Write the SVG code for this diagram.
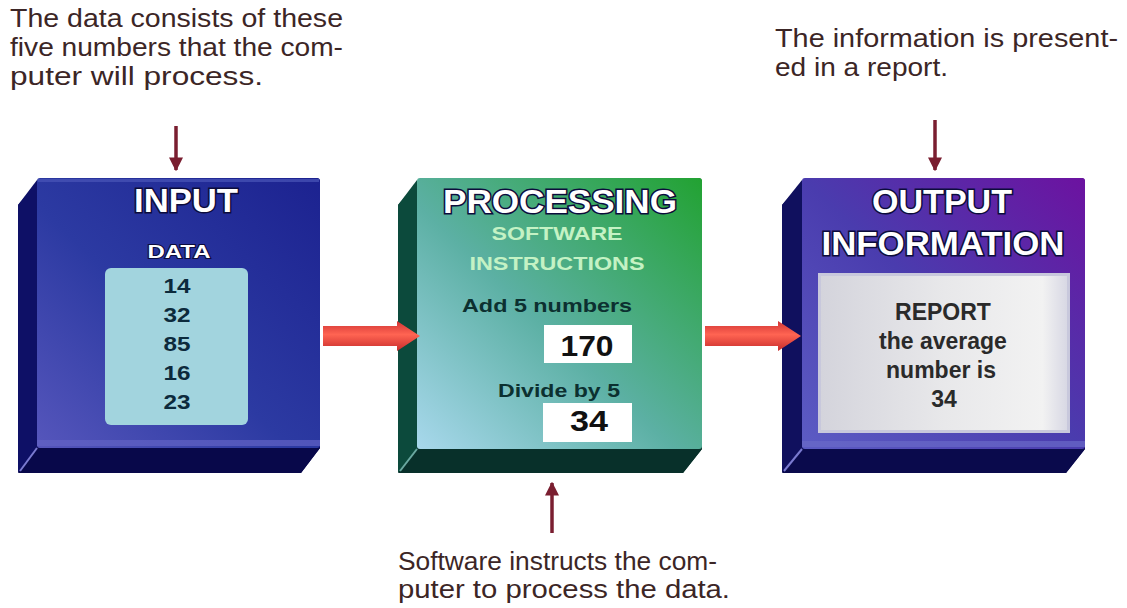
<svg xmlns="http://www.w3.org/2000/svg" width="1127" height="608" viewBox="0 0 1127 608">
<defs>
<linearGradient id="gIn" x1="0" y1="1" x2="1" y2="0">
<stop offset="0" stop-color="#5656bc"/><stop offset="0.45" stop-color="#2c3aa2"/><stop offset="1" stop-color="#1c2290"/>
</linearGradient>
<linearGradient id="gProc" x1="0" y1="1" x2="1" y2="0">
<stop offset="0" stop-color="#a8d8ec"/><stop offset="0.45" stop-color="#5cb0a4"/><stop offset="1" stop-color="#22a232"/>
</linearGradient>
<linearGradient id="gOut" x1="0" y1="1" x2="1" y2="0">
<stop offset="0" stop-color="#5c5cc4"/><stop offset="0.5" stop-color="#4a3cae"/><stop offset="1" stop-color="#6c12a0"/>
</linearGradient>
<linearGradient id="gRed" x1="0" y1="0" x2="0" y2="1">
<stop offset="0" stop-color="#d03434"/><stop offset="0.45" stop-color="#ff6452"/><stop offset="1" stop-color="#c82c2c"/>
</linearGradient>
<linearGradient id="gRep" x1="0" y1="0" x2="1" y2="0">
<stop offset="0" stop-color="#d4d4dc"/><stop offset="0.5" stop-color="#e8e8ea"/><stop offset="0.9" stop-color="#f2f2f2"/><stop offset="1" stop-color="#d8d8e4"/>
</linearGradient>
<marker id="ah" viewBox="0 0 10 10" refX="9" refY="5" markerWidth="4" markerHeight="4" orient="auto">
<path d="M0,0 L10,5 L0,10 Z" fill="#7a1e30"/>
</marker>
</defs>
<style>
.note{font-family:"Liberation Sans",Arial,sans-serif;font-size:26px;fill:#3c2626}
.title{font-family:"Liberation Sans",Arial,sans-serif;font-weight:bold;font-size:33px;fill:#ffffff;stroke:#0c0c3c;stroke-width:3;paint-order:stroke;text-anchor:middle}
.sub{font-family:"Liberation Sans",Arial,sans-serif;font-weight:bold;font-size:19px;text-anchor:middle}
.num{font-family:"Liberation Sans",Arial,sans-serif;font-weight:bold;font-size:21px;fill:#0c2a3c;text-anchor:middle}
.big{font-family:"Liberation Sans",Arial,sans-serif;font-weight:bold;font-size:29px;fill:#111111;text-anchor:middle}
.rep{font-family:"Liberation Sans",Arial,sans-serif;font-weight:bold;font-size:23px;fill:#2a2a2a;text-anchor:middle}
.ann{stroke:#7a1e30;stroke-width:3.5;fill:none}
</style>
<rect width="1127" height="608" fill="#ffffff"/>

<g id="note-input">
<text class="note" x="10" y="27" textLength="333" lengthAdjust="spacingAndGlyphs">The data consists of these</text>
<text class="note" x="10" y="56" textLength="333" lengthAdjust="spacingAndGlyphs">five numbers that the com-</text>
<text class="note" x="10" y="85" textLength="253" lengthAdjust="spacingAndGlyphs">puter will process.</text>
</g>
<g id="note-output">
<text class="note" x="775" y="47" textLength="343" lengthAdjust="spacingAndGlyphs">The information is present-</text>
<text class="note" x="775" y="76" textLength="173" lengthAdjust="spacingAndGlyphs">ed in a report.</text>
</g>
<g id="note-processing">
<text class="note" x="398" y="570" textLength="319" lengthAdjust="spacingAndGlyphs">Software instructs the com-</text>
<text class="note" x="398" y="598" textLength="332" lengthAdjust="spacingAndGlyphs">puter to process the data.</text>
</g>

<g id="input">
<path d="M41,178 H316 Q320,178 320,182 V448 L301,473 H22 Q18,473 18,469 V205 Z" fill="#0c0c5a"/>
<path d="M37,180 V448 L18,473 V205 Z" fill="#0e1066"/>
<path d="M37,448 H320 L301,473 H18 Z" fill="#08084a"/>
<rect x="37" y="178" width="283" height="270" rx="3" fill="url(#gIn)"/>
<rect x="37" y="440" width="283" height="6" fill="#6262c4" opacity="0.7"/>
<line x1="37" y1="448" x2="20" y2="471" stroke="#7a7ad0" stroke-width="2"/>
<rect x="38" y="179" width="281" height="3" fill="#4a56b8" opacity="0.7"/>
<text class="title" x="186" y="212" textLength="104" lengthAdjust="spacingAndGlyphs">INPUT</text>
<text class="sub" x="179" y="258" fill="#ffffff" stroke="#0c0c3c" stroke-width="2" paint-order="stroke" textLength="63" lengthAdjust="spacingAndGlyphs">DATA</text>
<rect x="105" y="268" width="143" height="157" rx="6" fill="#a2d4de"/>
<text class="num" x="177" y="293" textLength="27" lengthAdjust="spacingAndGlyphs">14</text>
<text class="num" x="177" y="322" textLength="27" lengthAdjust="spacingAndGlyphs">32</text>
<text class="num" x="177" y="351" textLength="27" lengthAdjust="spacingAndGlyphs">85</text>
<text class="num" x="177" y="380" textLength="27" lengthAdjust="spacingAndGlyphs">16</text>
<text class="num" x="177" y="409" textLength="27" lengthAdjust="spacingAndGlyphs">23</text>
</g>

<g id="processing">
<path d="M421,178 H698 Q702,178 702,182 V449 L683,473 H402 Q398,473 398,469 V205 Z" fill="#0a3a30"/>
<path d="M417,180 V449 L398,473 V205 Z" fill="#0c4a3c"/>
<path d="M417,449 H702 L683,473 H398 Z" fill="#08302a"/>
<rect x="417" y="178" width="285" height="271" rx="3" fill="url(#gProc)"/>
<line x1="417" y1="449" x2="400" y2="471" stroke="#6aa8a0" stroke-width="2"/>
<text class="title" x="560" y="213" stroke="#0a3a22" textLength="234" lengthAdjust="spacingAndGlyphs">PROCESSING</text>
<text class="sub" x="557" y="240" fill="#c4f2c4" textLength="131" lengthAdjust="spacingAndGlyphs">SOFTWARE</text>
<text class="sub" x="557" y="270" fill="#c4f2c4" textLength="175" lengthAdjust="spacingAndGlyphs">INSTRUCTIONS</text>
<text class="sub" x="547" y="312" fill="#0c3030" textLength="170" lengthAdjust="spacingAndGlyphs">Add 5 numbers</text>
<rect x="544" y="325" width="88" height="38" fill="#ffffff"/>
<text class="big" x="587" y="356" textLength="53" lengthAdjust="spacingAndGlyphs">170</text>
<text class="sub" x="559" y="397" fill="#0c3030" textLength="122" lengthAdjust="spacingAndGlyphs">Divide by 5</text>
<rect x="543" y="403" width="89" height="39" fill="#ffffff"/>
<text class="big" x="589" y="431" textLength="38" lengthAdjust="spacingAndGlyphs">34</text>
</g>

<g id="output">
<path d="M806,178 H1081 Q1085,178 1085,182 V449 L1066,473 H786 Q782,473 782,469 V205 Z" fill="#0c0c58"/>
<path d="M802,180 V449 L782,473 V205 Z" fill="#10105e"/>
<path d="M802,449 H1085 L1066,473 H782 Z" fill="#0a0a4c"/>
<rect x="802" y="178" width="283" height="271" rx="3" fill="url(#gOut)"/>
<rect x="802" y="441" width="283" height="6" fill="#6a6ac8" opacity="0.7"/>
<line x1="802" y1="449" x2="784" y2="471" stroke="#7a7ad0" stroke-width="2"/>
<text class="title" x="942" y="213" textLength="140" lengthAdjust="spacingAndGlyphs">OUTPUT</text>
<text class="title" x="943" y="255" textLength="243" lengthAdjust="spacingAndGlyphs">INFORMATION</text>
<rect x="818" y="273" width="252" height="160" fill="#c8c8dc"/>
<rect x="821" y="276" width="246" height="154" fill="url(#gRep)"/>
<text class="rep" x="943" y="320">REPORT</text>
<text class="rep" x="943" y="349">the average</text>
<text class="rep" x="941" y="378">number is</text>
<text class="rep" x="944" y="407">34</text>
</g>

<g id="connectors">
<path d="M323,326 H397 V321 L420,336 L397,351 V346 H323 Z" fill="url(#gRed)"/>
<path d="M705,326 H778 V321 L801,336 L778,351 V346 H705 Z" fill="url(#gRed)"/>
<line class="ann" x1="176" y1="126" x2="176" y2="170" marker-end="url(#ah)"/>
<line class="ann" x1="935" y1="120" x2="935" y2="170" marker-end="url(#ah)"/>
<line class="ann" x1="552" y1="533" x2="552" y2="483" marker-end="url(#ah)"/>
</g>
</svg>
